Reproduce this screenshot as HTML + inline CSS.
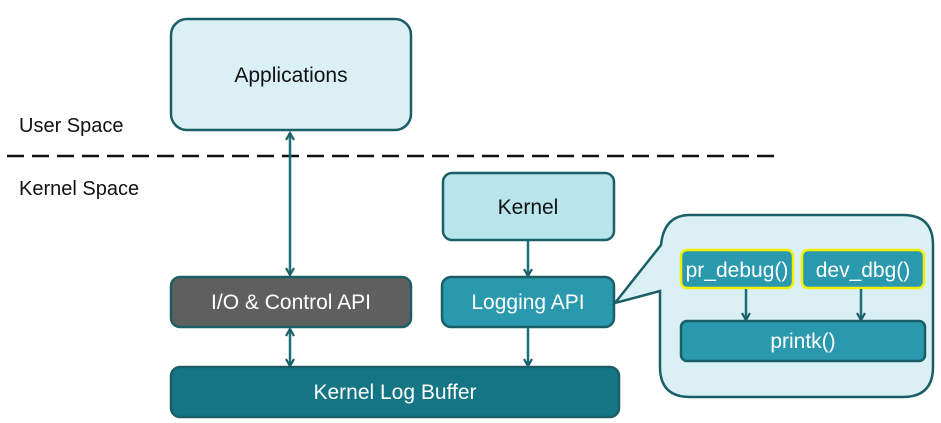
<!DOCTYPE html>
<html><head><style>body{margin:0;background:#fff}svg{display:block}text{font-family:"Liberation Sans",sans-serif}</style></head>
<body>
<svg width="941" height="423" viewBox="0 0 941 423">
<defs><marker id="a" markerWidth="10" markerHeight="10" refX="8" refY="5" orient="auto-start-reverse" markerUnits="userSpaceOnUse"><path d="M1,1 L8,5 L1,9" fill="none" stroke="#1b5f66" stroke-width="2.2"/></marker></defs>
<rect x="171" y="19" width="240" height="111" rx="16" fill="#daf0f5" stroke="#1b5f66" stroke-width="2.5"/>
<text x="291" y="82" font-size="21" text-anchor="middle" fill="#111">Applications</text>
<text x="19" y="132" font-size="20" fill="#111">User Space</text>
<text x="19" y="195" font-size="20" fill="#111">Kernel Space</text>
<line x1="7" y1="156" x2="780" y2="156" stroke="#111" stroke-width="2.5" stroke-dasharray="17,8"/>
<line x1="290" y1="133" x2="290" y2="275" stroke="#1b6f78" stroke-width="2.5" marker-start="url(#a)" marker-end="url(#a)"/>
<rect x="443" y="173" width="171" height="67" rx="9" fill="#b8e4ec" stroke="#1b5f66" stroke-width="2.5"/>
<text x="528" y="214" font-size="21" text-anchor="middle" fill="#111">Kernel</text>
<line x1="528" y1="240" x2="528" y2="276" stroke="#1b6f78" stroke-width="2.5" marker-end="url(#a)"/>
<rect x="171" y="277" width="240" height="50" rx="9" fill="#5f5f5f" stroke="#1b5f66" stroke-width="2.5"/>
<text x="291" y="309" font-size="21" text-anchor="middle" fill="#fff">I/O &amp; Control API</text>
<rect x="442" y="277" width="172" height="50" rx="9" fill="#2a99ad" stroke="#1b5f66" stroke-width="2.5"/>
<text x="528" y="309" font-size="21" text-anchor="middle" fill="#fff">Logging API</text>
<line x1="290" y1="329" x2="290" y2="366" stroke="#1b6f78" stroke-width="2.5" marker-start="url(#a)" marker-end="url(#a)"/>
<line x1="528" y1="327" x2="528" y2="366" stroke="#1b6f78" stroke-width="2.5" marker-end="url(#a)"/>
<rect x="171" y="367" width="448" height="50" rx="9" fill="#147584" stroke="#1b5f66" stroke-width="2.5"/>
<text x="395" y="399" font-size="21" text-anchor="middle" fill="#fff">Kernel Log Buffer</text>
<path d="M690,215 H903 Q933,215 933,245 V367 Q933,397 903,397 H690 Q660,397 660,367 V291 L615,303 L661,245 Q664,215 690,215 Z" fill="#daf0f5" stroke="#1b5f66" stroke-width="2.5"/>
<rect x="681" y="250" width="112" height="38" rx="6" fill="#2a99ad" stroke="#f0f000" stroke-width="2.5"/>
<text x="737" y="277" font-size="21" text-anchor="middle" fill="#fff">pr_debug()</text>
<rect x="802" y="250" width="122" height="38" rx="6" fill="#2a99ad" stroke="#f0f000" stroke-width="2.5"/>
<text x="863" y="277" font-size="21" text-anchor="middle" fill="#fff">dev_dbg()</text>
<line x1="746" y1="289" x2="746" y2="320" stroke="#1b6f78" stroke-width="2.5" marker-end="url(#a)"/>
<line x1="861" y1="289" x2="861" y2="320" stroke="#1b6f78" stroke-width="2.5" marker-end="url(#a)"/>
<rect x="681" y="321" width="244" height="40" rx="6" fill="#2a99ad" stroke="#1b5f66" stroke-width="2.5"/>
<text x="803" y="348" font-size="21" text-anchor="middle" fill="#fff">printk()</text>
</svg>
</body></html>
